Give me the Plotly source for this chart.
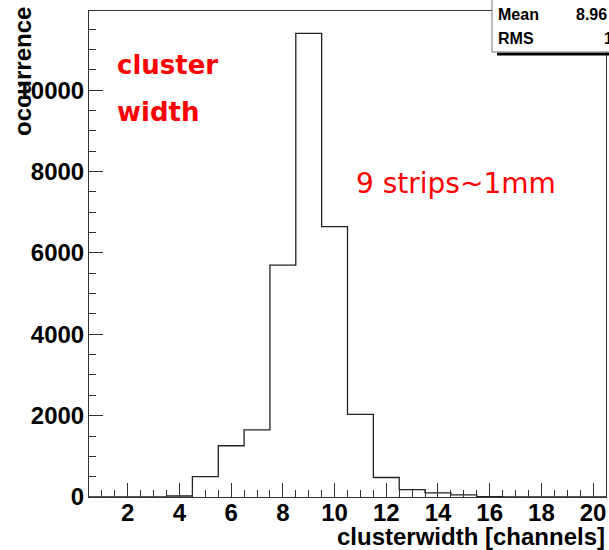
import numpy as np
import plotly.graph_objects as go

# ---- data ----
bin_centers = list(range(1, 21))
counts = [0, 0, 0, 25, 500, 1260, 1650, 5700, 11400, 6650,
          2030, 480, 180, 100, 50, 10, 0, 0, 0, 0]
x_tick_vals = [2, 4, 6, 8, 10, 12, 14, 16, 18, 20]
y_tick_vals = [0, 2000, 4000, 6000, 8000, 10000]
stats_labels = ["Mean", "RMS"]
stats_values = ["8.96", "1"]

W, H = 609, 550
ML, MR, MT, MB = 89, 3, 11, 53
pw, ph = W - ML - MR, H - MT - MB

def px(x):
    return (x - ML) / pw

def py(y):
    return (H - MB - y) / ph

centers = np.array(bin_centers, dtype=float)
edges = np.concatenate([centers - 0.5, [centers[-1] + 0.5]])
vals = np.array(counts, dtype=float)
step_y = np.concatenate([vals, [vals[-1]]])

fig = go.Figure()
fig.add_trace(go.Scatter(
    x=edges, y=step_y, mode="lines", line_shape="hv",
    line=dict(color="#222222", width=1.3), showlegend=False, hoverinfo="skip"))

font_bold = dict(family="Liberation Sans, Arial, sans-serif", size=24, color="black", weight="bold")

fig.update_layout(
    width=W, height=H,
    margin=dict(l=ML, r=MR, t=MT, b=MB),
    paper_bgcolor="white", plot_bgcolor="white",
    showlegend=False,
    xaxis=dict(range=[0.5, 20.5], tickvals=x_tick_vals, ticktext=[str(v) for v in x_tick_vals],
               ticks="inside", ticklen=14, tickwidth=1, tickcolor="#333",
               minor=dict(ticks="inside", dtick=0.5, tick0=0, ticklen=7, tickcolor="#333", showgrid=False),
               showline=True, linecolor="#333", linewidth=1, mirror=True,
               showgrid=False, zeroline=False, tickfont=font_bold, ticklabelstandoff=-6),
    yaxis=dict(range=[0, 11950], tickvals=y_tick_vals, ticktext=[str(v) for v in y_tick_vals],
               ticks="inside", ticklen=14, tickwidth=1, tickcolor="#333",
               minor=dict(ticks="inside", dtick=500, tick0=0, ticklen=7, tickcolor="#333", showgrid=False),
               showline=True, linecolor="#333", linewidth=1, mirror=True,
               showgrid=False, zeroline=False, tickfont=font_bold, ticklabelstandoff=-1),
)

annots = []
# axis titles
annots.append(dict(text="clusterwidth [channels]", xref="paper", yref="paper",
                   x=px(607), y=py(536), xanchor="right", yanchor="middle",
                   showarrow=False, font=font_bold))
annots.append(dict(text="occurrence", xref="paper", yref="paper",
                   x=px(22), y=py(72), xanchor="center", yanchor="middle", textangle=-90,
                   showarrow=False, font=font_bold))
# red labels
red_font_b = dict(family="DejaVu Sans, sans-serif", size=26, color="#ff0000", weight="bold")
red_font = dict(family="DejaVu Sans, sans-serif", size=28, color="#ff0000")
annots.append(dict(text="cluster", xref="paper", yref="paper", x=px(115), y=py(65),
                   xanchor="left", yanchor="middle", showarrow=False, font=red_font_b))
annots.append(dict(text="width", xref="paper", yref="paper", x=px(115), y=py(112),
                   xanchor="left", yanchor="middle", showarrow=False, font=red_font_b))
annots.append(dict(text="9 strips~1mm", xref="paper", yref="paper", x=px(354), y=py(183),
                   xanchor="left", yanchor="middle", showarrow=False, font=red_font))

# stats box
shapes = [
    dict(type="line", xref="paper", yref="paper", x0=px(497), x1=px(640), y0=py(54), y1=py(54),
         line=dict(color="black", width=3)),
    dict(type="rect", xref="paper", yref="paper", x0=px(492), x1=px(640), y0=py(52), y1=py(-2),
         line=dict(color="#777", width=1), fillcolor="white"),
]
stat_font = dict(family="Liberation Sans, Arial, sans-serif", size=16, color="black", weight="bold")
for i, (lab, val) in enumerate(zip(stats_labels, stats_values)):
    yy = 15 + 24 * i
    annots.append(dict(text=lab, xref="paper", yref="paper", x=px(496), y=py(yy),
                       xanchor="left", yanchor="middle", showarrow=False, font=stat_font))
    annots.append(dict(text=val, xref="paper", yref="paper", x=px(574 if i == 0 else 602), y=py(yy),
                       xanchor="left", yanchor="middle", showarrow=False, font=stat_font))

fig.update_layout(annotations=annots, shapes=shapes)
fig.write_html("out.html")
